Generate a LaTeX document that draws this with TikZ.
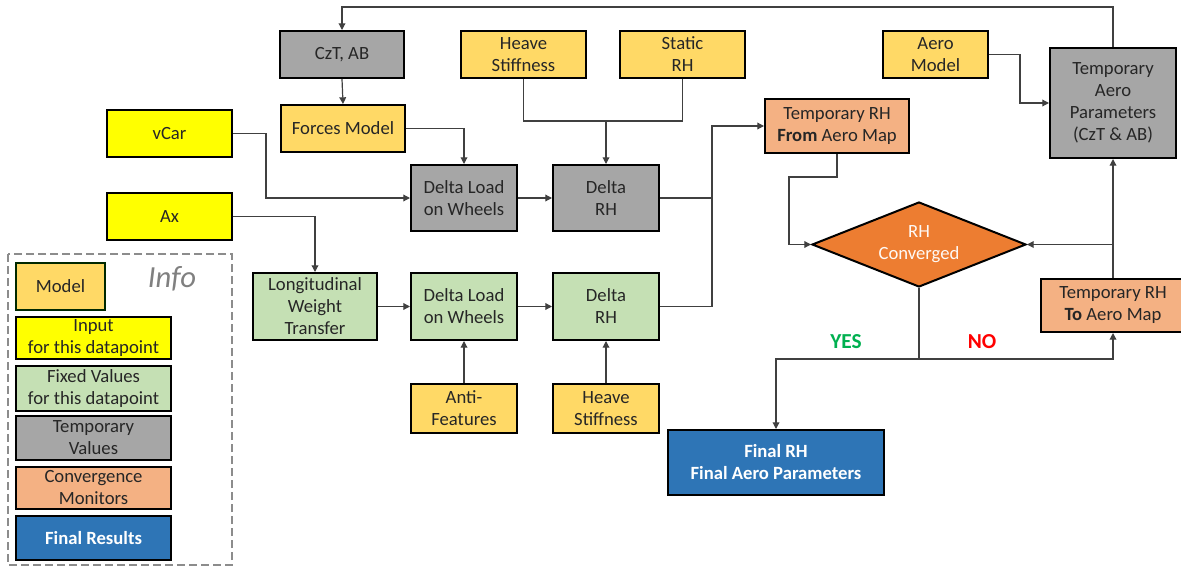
\documentclass[tikz,border=0pt]{standalone}
\usepackage{fontspec}
\setmainfont{Carlito}
\usetikzlibrary{arrows.meta,shapes.geometric}

\definecolor{modelc}{HTML}{FFD966}
\definecolor{inputc}{HTML}{FFFF00}
\definecolor{fixedc}{HTML}{C5E0B4}
\definecolor{tempc}{HTML}{A6A6A6}
\definecolor{convc}{HTML}{F4B183}
\definecolor{diac}{HTML}{ED7D31}
\definecolor{finalc}{HTML}{2E75B6}
\definecolor{txt}{HTML}{262626}
\definecolor{wire}{HTML}{404040}
\definecolor{yesc}{HTML}{00B050}
\definecolor{noc}{HTML}{FF0000}

\tikzset{
  sz/.style 2 args={minimum width=#1*0.75pt, minimum height=#2*0.75pt},
  box/.style={draw=black, line width=1.5pt, inner sep=1pt, align=center,
    text=txt, font=\fontsize{14}{16.5}\selectfont},
  model/.style={box, fill=modelc},
  inbox/.style={box, fill=inputc},
  fixed/.style={box, fill=fixedc},
  temp/.style={box, fill=tempc},
  conv/.style={box, fill=convc},
  result/.style={box, fill=finalc, text=white, font=\fontsize{14}{16.5}\selectfont\bfseries},
  decision/.style={diamond, aspect=2.52, draw=black, line width=1.5pt, fill=diac, inner sep=0pt,
    align=center, text=white!95!diac, font=\fontsize{14}{16.5}\selectfont},
  line/.style={draw=wire, line width=0.9pt},
  conn/.style={line, -{Triangle[length=5pt,width=5pt]}},
  answer/.style={font=\fontsize{16}{18}\selectfont\bfseries},
}

\begin{document}
\begin{tikzpicture}[x=0.75pt, y=-0.75pt]
\clip (0,0) rectangle (1181,567);
\fill[white] (0,0) rectangle (1181,567);

% ---- legend ----
\draw[draw=black!45, line width=2.2pt, dash pattern=on 6pt off 3pt] (8,254) rectangle (232,565);
\node[model, draw=black!60!green!40!black, sz={89}{47}] (lmodel) at (60.5,286.5) {Model};
\node[text=black!50, font=\fontsize{23}{26}\selectfont\itshape] (linfo) at (172,279) {Info};
\node[inbox, sz={155}{42}] (linput) at (93.5,338) {Input\\for this datapoint};
\node[fixed, sz={155}{45}] (lfixed) at (93.5,388.5) {Fixed Values\\for this datapoint};
\node[temp, sz={155}{44}] (ltemp) at (93.5,438) {Temporary\\Values};
\node[conv, sz={155}{42}] (lconv) at (93.5,488) {Convergence\\Monitors};
\node[result, sz={155}{44}] (lfinal) at (93.5,538) {Final Results};

% ---- inputs and models ----
\node[temp, sz={124}{47}] (czt) at (342,54.5) {CzT, AB};
\node[model, sz={124}{47}] (forces) at (343,128.5) {Forces Model};
\node[model, sz={125}{47}] (heave1) at (523.5,54.5) {Heave\\Stiffness};
\node[model, sz={125}{47}] (static) at (682.5,54.5) {Static\\RH};
\node[model, sz={105}{47}] (aero) at (935.5,54.5) {Aero\\Model};
\node[inbox, sz={125}{47}] (vcar) at (169.5,133.5) {vCar};
\node[inbox, sz={125}{47}] (ax) at (169.5,216.5) {Ax};

% ---- temporary chain ----
\node[temp, sz={106}{66}] (dlg) at (464,198) {Delta Load\\on Wheels};
\node[temp, sz={106}{66}] (drg) at (606,198) {Delta\\RH};

% ---- fixed chain ----
\node[fixed, sz={124}{67}] (lwt) at (315,306.5) {Longitudinal\\Weight\\Transfer};
\node[fixed, sz={106}{67}] (dlf) at (464,306.5) {Delta Load\\on Wheels};
\node[fixed, sz={106}{67}] (drf) at (606,306.5) {Delta\\RH};
\node[model, sz={106}{49}] (anti) at (464,408.5) {Anti-\\Features};
\node[model, sz={106}{49}] (heave2) at (606,408.5) {Heave\\Stiffness};

% ---- convergence loop ----
\node[conv, sz={144}{54}] (tfrom) at (837,126) {Temporary RH\\\textbf{From} Aero Map};
\node[decision, sz={214}{85}] (dia) at (919,244.5) {RH\\Converged};
\node[temp, sz={126}{110}] (tap) at (1113,103) {Temporary\\Aero\\Parameters\\(CzT \& AB)};
\node[conv, sz={144}{53}] (tto) at (1113,305.5) {Temporary RH\\\textbf{To} Aero Map};
\node[result, sz={216}{65}] (final) at (776,462.5) {Final RH\\Final Aero Parameters};

\node[answer, text=yesc] (yes) at (846,342) {YES};
\node[answer, text=noc] (no) at (982,342) {NO};

% ---- routing points ----
\coordinate (top) at (0,7);
\coordinate (jh) at (606,121);
\coordinate (bus) at (712,126);
\coordinate (tf1) at (789,177);
\coordinate (split) at (919,359);

% ---- connectors ----
\draw[conn] (tap.north) |- (top -| czt.north) -- (czt.north);
\draw[conn] (czt.south) -- (forces.north);
\draw[conn] (forces.east) -| (dlg.north);
\draw[line] (heave1.south) |- (jh);
\draw[line] (static.south) |- (jh);
\draw[conn] (jh) -- (drg.north);
\draw[conn] (vcar.east) -- ++(33,0) |- (dlg.west);
\draw[conn] (ax.east) -| (lwt.north);
\draw[conn] (dlg.east) -- (drg.west);
\draw[conn] (lwt.east) -- (dlf.west);
\draw[conn] (dlf.east) -- (drf.west);
\draw[conn] (anti.north) -- (dlf.south);
\draw[conn] (heave2.north) -- (drf.south);
\draw[line] (drg.east) -- (drg.east -| bus);
\draw[conn] (drf.east) -| (bus) -- (tfrom.west);
\draw[conn] (tfrom.south) |- (tf1) |- (dia.west);
\draw[conn] (aero.east) -- ++(31,0) |- (tap.west);
\draw[conn] (tto.north) -- (tap.south);
\draw[conn] (tto.north |- dia.east) -- (dia.east);
\draw[line] (dia.south) -- (split);
\draw[conn] (split) -| (final.north);
\draw[conn] (split) -| (tto.south);
\end{tikzpicture}
\end{document}
